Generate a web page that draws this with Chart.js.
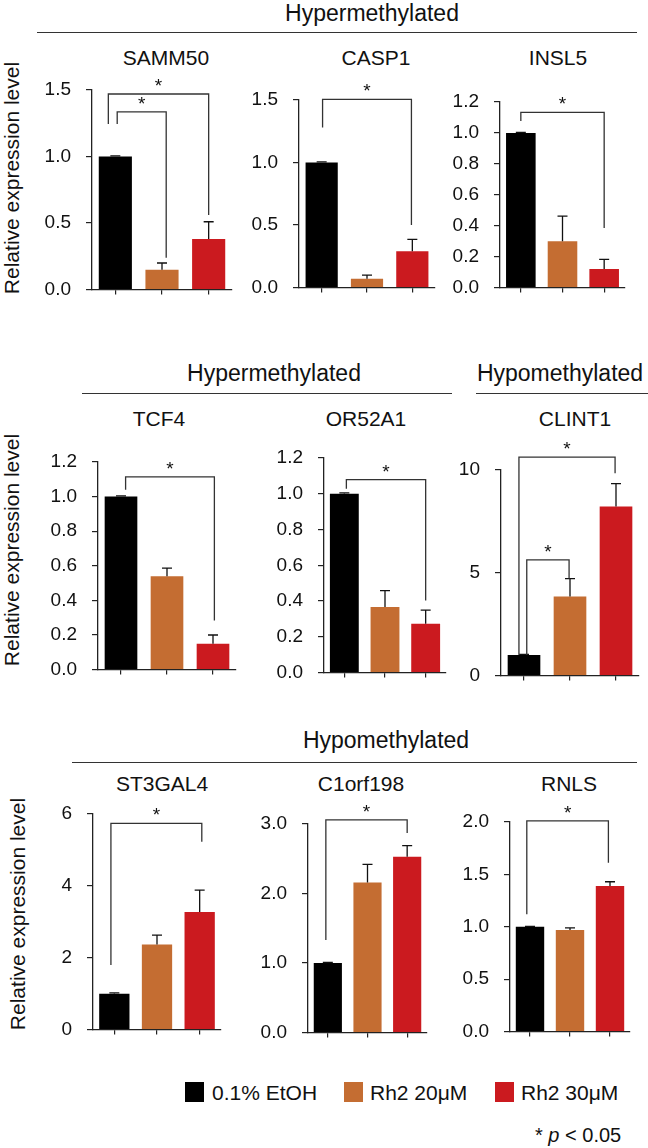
<!DOCTYPE html>
<html>
<head>
<meta charset="utf-8">
<script src="https://cdn.jsdelivr.net/npm/chart.js@4.4.1/dist/chart.umd.min.js"></script>
<style>
  body { margin: 0; background: #fff; }
  #fig { position: relative; width: 648px; height: 1148px; overflow: hidden;
         font-family: "Liberation Sans", Arial, sans-serif; color: #111; }
  .t { position: absolute; white-space: nowrap; line-height: 1; transform: translate(-50%, -50%); }
  .head { font-size: 23px; }
  .gene { font-size: 21px; }
  .ytitle { position: absolute; white-space: nowrap; line-height: 1; font-size: 21px;
            transform: translate(-50%, -50%) rotate(-90deg); }
  .hline { position: absolute; height: 0; border-top: 1.3px solid #333; }
  canvas { position: absolute; }
  .box { position: absolute; width: 19px; height: 20px; }
  .leg { position: absolute; font-size: 21px; line-height: 1; white-space: nowrap; transform: translateY(-50%); }
</style>
</head>
<body>
<div id="fig">
  <div class="t head" style="left:372px;top:13px">Hypermethylated</div>
  <div class="hline" style="left:37px;width:600px;top:32px"></div>
  <div class="t head" style="left:274px;top:373px">Hypermethylated</div>
  <div class="hline" style="left:82px;width:370px;top:393px"></div>
  <div class="t head" style="left:560px;top:373px">Hypomethylated</div>
  <div class="hline" style="left:476px;width:172px;top:393px"></div>
  <div class="t head" style="left:386px;top:740px">Hypomethylated</div>
  <div class="hline" style="left:72px;width:565px;top:762px"></div>

  <div class="ytitle" style="left:11px;top:178px">Relative expression level</div>
  <div class="ytitle" style="left:11px;top:550px">Relative expression level</div>
  <div class="ytitle" style="left:17px;top:914px">Relative expression level</div>

  <div class="box" style="left:185px;top:1082px;background:#000000"></div>
  <div class="leg" style="left:212px;top:1092px">0.1% EtOH</div>
  <div class="box" style="left:344px;top:1082px;background:#C46D32"></div>
  <div class="leg" style="left:370px;top:1092px">Rh2 20μM</div>
  <div class="box" style="left:495px;top:1082px;background:#CB1A1F"></div>
  <div class="leg" style="left:521px;top:1092px">Rh2 30μM</div>

  <div class="leg" style="left:535px;top:1135px;font-size:20px">* <i>p</i> &lt; 0.05</div>
</div>

<script>
// ---------- DATA ----------
var groups = ['0.1% EtOH', 'Rh2 20μM', 'Rh2 30μM'];
var barColors = ['#000000', '#C46D32', '#CB1A1F'];
var genes = ['SAMM50', 'CASP1', 'INSL5', 'TCF4', 'OR52A1', 'CLINT1', 'ST3GAL4', 'C1orf198', 'RNLS'];

var samm50 = [1.00, 0.15, 0.38];    var samm50Err = [0.005, 0.05, 0.13];
var casp1 = [1.00, 0.07, 0.29];     var casp1Err = [0.005, 0.03, 0.095];
var insl5 = [1.00, 0.30, 0.12];     var insl5Err = [0.004, 0.162, 0.063];
var tcf4 = [1.00, 0.54, 0.15];      var tcf4Err = [0.004, 0.047, 0.05];
var or52a1 = [1.00, 0.367, 0.273];  var or52a1Err = [0.005, 0.091, 0.076];
var clint1 = [1.00, 3.85, 8.22];    var clint1Err = [0.03, 0.87, 1.12];
var st3gal4 = [1.00, 2.37, 3.27];   var st3gal4Err = [0.02, 0.26, 0.61];
var c1orf198 = [1.00, 2.16, 2.53];  var c1orf198Err = [0.008, 0.26, 0.16];
var rnls = [1.00, 0.97, 1.39];      var rnlsErr = [0.004, 0.02, 0.04];

// y axis ticks per panel
var yMax = [1.5, 1.5, 1.2, 1.2, 1.2, 10, 6, 3, 2];
var yStep = [0.5, 0.5, 0.2, 0.2, 0.2, 5, 2, 1, 0.5];
var yDecimals = [1, 1, 1, 1, 1, 0, 0, 1, 1];

// significance brackets: [from category, to category, top, left leg end, right leg end]
var samm50Sig = [[-0.15, 2.0, 1.47, 1.245, 0.56], [0.04, 1.09, 1.335, 1.245, 0.24]];
var casp1Sig = [[0.02, 1.98, 1.505, 1.28, 0.50]];
var insl5Sig = [[0.0, 2.0, 1.133, 1.077, 0.385]];
var tcf4Sig = [[0.1, 2.03, 1.114, 1.04, 0.284]];
var or52a1Sig = [[0.05, 2.0, 1.079, 1.028, 0.403]];
var clint1Sig = [[-0.11, 1.98, 10.63, 1.0, 9.84], [0.06, 0.98, 5.63, 1.0, 4.72]];
var st3gal4Sig = [[-0.08, 2.05, 5.74, 1.8, 5.23]];
var c1orf198Sig = [[-0.05, 2.0, 3.06, 1.33, 2.87]];
var rnlsSig = [[-0.08, 1.96, 2.01, 1.12, 1.61]];

// ---------- LAYOUT ----------
// chart area of each panel: left, right, top, bottom (px on the page)
var panels = [
  { vals: samm50,   err: samm50Err,   sig: samm50Sig,   area: [92, 232, 90, 296],    title: [166, 57] },
  { vals: casp1,    err: casp1Err,    sig: casp1Sig,    area: [299, 435, 100, 294],  title: [376, 57] },
  { vals: insl5,    err: insl5Err,    sig: insl5Sig,    area: [500, 625, 102, 294],  title: [558, 57] },
  { vals: tcf4,     err: tcf4Err,     sig: tcf4Sig,     area: [98, 236, 462, 676],   title: [159, 418] },
  { vals: or52a1,   err: or52a1Err,   sig: or52a1Sig,   area: [324, 446, 458, 679],  title: [366, 418] },
  { vals: clint1,   err: clint1Err,   sig: clint1Sig,   area: [501, 639, 470, 682],  title: [575, 418] },
  { vals: st3gal4,  err: st3gal4Err,  sig: st3gal4Sig,  area: [93, 221, 814, 1036],  title: [162, 783] },
  { vals: c1orf198, err: c1orf198Err, sig: c1orf198Sig, area: [308, 427, 824, 1039], title: [361, 783] },
  { vals: rnls,     err: rnlsErr,     sig: rnlsSig,     area: [510, 630, 822, 1038], title: [569, 783] }
];

var FONT = '"Liberation Sans", Arial, sans-serif';
var fig = document.getElementById('fig');

// error bars + brackets with stars
function marksPlugin(p) {
  return {
    id: 'marks',
    afterDatasetsDraw: function (chart) {
      var ctx = chart.ctx, xs = chart.scales.x, ys = chart.scales.y;
      var meta = chart.getDatasetMeta(0);
      ctx.save();
      ctx.lineWidth = 1.3;
      ctx.strokeStyle = '#111';
      p.err.forEach(function (e, k) {
        var x = meta.data[k].x;
        var y0 = ys.getPixelForValue(p.vals[k]);
        var y1 = ys.getPixelForValue(p.vals[k] + e);
        ctx.beginPath();
        ctx.moveTo(x, y0); ctx.lineTo(x, y1);
        ctx.moveTo(x - 5, y1); ctx.lineTo(x + 5, y1);
        ctx.stroke();
      });
      ctx.strokeStyle = '#333';
      ctx.fillStyle = '#111';
      ctx.font = '19px ' + FONT;
      ctx.textAlign = 'center';
      ctx.textBaseline = 'alphabetic';
      p.sig.forEach(function (b) {
        var xa = xs.getPixelForValue(b[0]), xb = xs.getPixelForValue(b[1]);
        var yt = ys.getPixelForValue(b[2]);
        ctx.beginPath();
        ctx.moveTo(xa, ys.getPixelForValue(b[3]));
        ctx.lineTo(xa, yt);
        ctx.lineTo(xb, yt);
        ctx.lineTo(xb, ys.getPixelForValue(b[4]));
        ctx.stroke();
        ctx.fillText('*', (xa + xb) / 2, yt - 2);
      });
      ctx.restore();
    }
  };
}

var L = 64, T = 50, R = 12, B = 20;

panels.forEach(function (p, i) {
  var title = document.createElement('div');
  title.className = 't gene';
  title.style.left = p.title[0] + 'px';
  title.style.top = p.title[1] + 'px';
  title.textContent = genes[i];
  fig.appendChild(title);

  var cv = document.createElement('canvas');
  var w = p.area[1] - p.area[0] + L + R;
  var h = p.area[3] - p.area[2] + T + B;
  cv.width = w; cv.height = h;
  cv.style.width = w + 'px'; cv.style.height = h + 'px';
  cv.style.left = (p.area[0] - L) + 'px';
  cv.style.top = (p.area[2] - T) + 'px';
  fig.appendChild(cv);

  new Chart(cv, {
    type: 'bar',
    data: {
      labels: groups,
      datasets: [{
        data: p.vals,
        backgroundColor: barColors,
        borderWidth: 0,
        barPercentage: 0.71,
        categoryPercentage: 1
      }]
    },
    options: {
      responsive: false,
      animation: false,
      devicePixelRatio: 1,
      layout: { padding: { top: T, right: R, bottom: B - 12, left: 0 } },
      plugins: { legend: { display: false }, tooltip: { enabled: false } },
      scales: {
        x: {
          ticks: { display: false },
          grid: { drawOnChartArea: false, offset: false, tickLength: 5, color: '#222', lineWidth: 1.2 },
          border: { color: '#222', width: 1.3 },
          afterFit: function (s) { s.height = 12; }
        },
        y: {
          min: 0,
          max: yMax[i],
          ticks: {
            stepSize: yStep[i],
            padding: 15,
            color: '#111',
            font: { family: FONT, size: 19 },
            callback: function (v) { return Number(v).toFixed(yDecimals[i]); }
          },
          grid: { drawOnChartArea: false, tickLength: 6, color: '#222', lineWidth: 1.2 },
          border: { color: '#222', width: 1.3 },
          afterFit: function (s) { s.width = L; }
        }
      }
    },
    plugins: [marksPlugin(p)]
  });
});
</script>
</body>
</html>
